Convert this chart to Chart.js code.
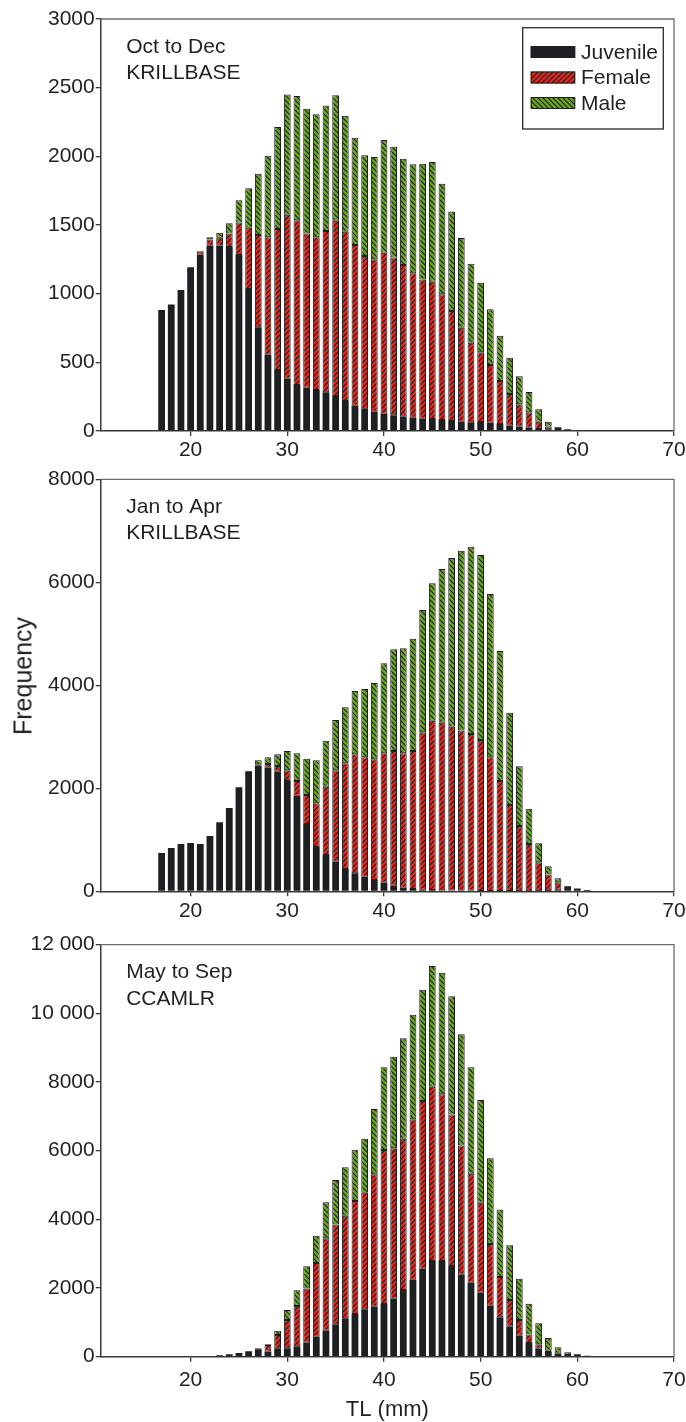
<!DOCTYPE html>
<html><head><meta charset="utf-8">
<script src="https://cdn.jsdelivr.net/npm/chart.js@4.4.1/dist/chart.umd.min.js"></script>
<style>
html,body{margin:0;padding:0;background:#fff;}
body{width:686px;height:1422px;position:relative;overflow:hidden;}
.wrap{position:absolute;left:0;width:686px;}
canvas{display:block;}
#ylab{position:absolute;left:22.5px;top:676px;transform:translate(-50%,-50%) rotate(-90deg);
  font-family:'Liberation Sans',Arial,Helvetica,sans-serif;font-size:25px;line-height:1;color:#231f20;white-space:nowrap;}
</style></head><body>
<div class="wrap" style="top:0px;height:470px"><canvas id="c1" width="686" height="470"></canvas></div>
<div class="wrap" style="top:460px;height:470px"><canvas id="c2" width="686" height="470"></canvas></div>
<div class="wrap" style="top:925px;height:497px"><canvas id="c3" width="686" height="497"></canvas></div>
<div id="ylab">Frequency</div>
<script>
// ---------------- DATA ----------------
const lengths = [17,18,19,20,21,22,23,24,25,26,27,28,29,30,31,32,33,34,35,36,37,38,39,40,41,42,43,44,45,46,47,48,49,50,51,52,53,54,55,56,57,58,59,60,61];
const seriesNames = ['Juvenile','Female','Male'];

// Oct to Dec, KRILLBASE
const octJuv  = [881,922,1027,1192,1286,1349,1349,1340,1281,1034,755,556,444,381,335,316,299,282,255,218,184,165,141,126,114,104,97,90,87,80,73,68,63,66,61,51,39,32,24,15,12,27,12,5,2];
const octFem  = [0,0,0,0,22,46,59,99,238,446,672,854,1027,1194,1199,1123,1111,1174,1276,1233,1170,1109,1109,1172,1150,1105,1051,1014,1000,915,801,684,580,507,420,313,230,162,112,53,20,0,0,0,0];
const octMale = [0,0,0,0,0,15,36,73,161,287,447,595,742,876,905,908,896,915,913,845,782,733,745,821,806,774,794,842,872,806,725,653,575,507,405,330,265,204,148,90,36,0,0,0,0];

// Jan to Apr, KRILLBASE
const janJuv  = [744,841,919,938,919,1074,1340,1618,2019,2330,2440,2401,2323,2142,1857,1307,861,705,576,434,349,285,220,168,110,71,45,32,26,20,15,12,10,8,6,5,4,3,3,2,2,30,100,52,26];
const janFem  = [0,0,0,0,0,0,0,0,0,0,25,71,110,207,285,563,848,1327,1773,2051,2311,2317,2343,2511,2615,2608,2680,3055,3288,3255,3182,3108,3045,2930,2596,2137,1672,1266,916,561,322,145,0,0,0];
const janMale = [0,0,0,0,0,0,0,0,0,13,78,130,227,376,537,706,834,893,978,1088,1230,1327,1482,1748,1974,2039,2181,2375,2666,2983,3275,3494,3637,3592,3171,2524,1793,1158,686,369,161,77,0,0,0];

// May to Sep, CCAMLR
const mayJuv  = [0,0,0,0,0,19,39,68,107,160,215,150,245,243,301,417,583,757,942,1117,1243,1379,1456,1534,1689,1942,2243,2563,2786,2786,2641,2388,2155,1864,1485,1146,874,612,398,233,136,90,50,68,29];
const mayFem  = [0,0,0,0,0,0,0,0,0,0,30,190,387,825,1175,1573,2145,2690,2912,2990,3291,3398,3855,4486,4379,4408,4670,4884,5078,4855,4417,3767,3175,2622,1797,1174,777,456,252,126,39,5,0,0,0];
const mayMale = [0,0,0,0,0,0,0,0,0,0,0,20,125,291,456,641,796,1048,1292,1408,1495,1573,1903,2407,2670,2922,3048,3243,3515,3544,3437,3234,3097,2990,2495,1971,1592,1204,894,612,369,177,76,0,0];

const xTicks   = [20,30,40,50,60,70];
const octTicks = [0,500,1000,1500,2000,2500,3000];
const janTicks = [0,2000,4000,6000,8000];
const mayTicks = [0,2000,4000,6000,8000,10000,12000];

const panelTexts = [['Oct to Dec','KRILLBASE'],['Jan to Apr','KRILLBASE'],['May to Sep','CCAMLR']];

// ---------------- STYLE ----------------
const FONT = "'Liberation Sans', Arial, Helvetica, sans-serif";
const TXT = '#231f20';
const AXIS = '#3a3a3a';
Chart.defaults.font.family = FONT;
Chart.defaults.color = TXT;

function hatch(ctx, bg, dir) {
  const s = 5;
  const c = document.createElement('canvas');
  c.width = s; c.height = s;
  const g = c.getContext('2d');
  g.fillStyle = bg; g.fillRect(0, 0, s, s);
  g.strokeStyle = '#1a1a1a'; g.lineWidth = 1.1;
  g.beginPath();
  if (dir === '/') {
    g.moveTo(-1, s + 1); g.lineTo(s + 1, -1);
    g.moveTo(-1, 1); g.lineTo(1, -1);
    g.moveTo(s - 1, s + 1); g.lineTo(s + 1, s - 1);
  } else {
    g.moveTo(-1, -1); g.lineTo(s + 1, s + 1);
    g.moveTo(-1, s - 1); g.lineTo(1, s + 1);
    g.moveTo(s - 1, -1); g.lineTo(s + 1, 1);
  }
  g.stroke();
  return ctx.createPattern(c, 'repeat');
}

function fmt(v) {
  return v >= 10000 ? String(v).replace(/\B(?=(\d{3})+$)/g, ' ') : String(v);
}

const framePlugin = {
  id: 'frame',
  afterDraw(chart) {
    const {ctx, chartArea: a} = chart;
    ctx.save();
    ctx.strokeStyle = '#6e6e6e';
    ctx.lineWidth = 1.3;
    ctx.beginPath();
    ctx.moveTo(a.left, a.top); ctx.lineTo(a.right, a.top); ctx.lineTo(a.right, a.bottom);
    ctx.stroke();
    ctx.restore();
  }
};

const notePlugin = {
  id: 'note',
  afterDraw(chart, args, o) {
    if (!o.lines) return;
    const {ctx, chartArea: a} = chart;
    ctx.save();
    ctx.fillStyle = TXT;
    ctx.font = '21px ' + FONT;
    ctx.textBaseline = 'alphabetic';
    ctx.textAlign = 'left';
    ctx.fillText(o.lines[0], a.left + 25.5, a.top + 33.5);
    ctx.fillText(o.lines[1], a.left + 25.5, a.top + 60);
    ctx.restore();
  }
};

const boxLegendPlugin = {
  id: 'boxLegend',
  afterDraw(chart, args, o) {
    if (!o.show) return;
    const {ctx, chartArea: a} = chart;
    const bx = a.right - 151.3, by = a.top + 8.7, bw = 140.6, bh = 101.3;
    ctx.save();
    ctx.fillStyle = '#fff';
    ctx.fillRect(bx, by, bw, bh);
    ctx.strokeStyle = '#2a2a2a';
    ctx.lineWidth = 1.3;
    ctx.strokeRect(bx, by, bw, bh);
    const rows = [24.3, 49.8, 75.3];
    chart.data.datasets.forEach((ds, i) => {
      const cy = by + rows[i];
      ctx.fillStyle = ds.backgroundColor;
      ctx.fillRect(bx + 8, cy - 6, 44.5, 12);
      ctx.strokeStyle = '#1e1e1e';
      ctx.lineWidth = 1;
      ctx.strokeRect(bx + 8.5, cy - 5.5, 43.5, 11);
      ctx.fillStyle = TXT;
      ctx.font = '21px ' + FONT;
      ctx.textBaseline = 'middle';
      ctx.textAlign = 'left';
      ctx.fillText(ds.label, bx + 58.3, cy + 1);
    });
    ctx.restore();
  }
};

function makeChart(id, juv, fem, male, yTicks, cfg) {
  const canvas = document.getElementById(id);
  const ctx = canvas.getContext('2d');
  const toPts = arr => lengths.map((L, i) => ({x: L, y: arr[i] === 0 ? null : arr[i]}));
  const common = {borderSkipped: false, barPercentage: 0.7, categoryPercentage: 1.0};
  return new Chart(ctx, {
    type: 'bar',
    data: {
      datasets: [
        Object.assign({label: seriesNames[0], data: toPts(juv), backgroundColor: '#1e1f22', borderWidth: 0}, common),
        Object.assign({label: seriesNames[1], data: toPts(fem), backgroundColor: hatch(ctx, '#e4281e', '/'), borderColor: '#1e1e1e', borderWidth: 1}, common),
        Object.assign({label: seriesNames[2], data: toPts(male), backgroundColor: hatch(ctx, '#6aa91f', '\\'), borderColor: '#1e1e1e', borderWidth: 1}, common)
      ]
    },
    options: {
      responsive: false,
      animation: false,
      layout: {padding: {top: cfg.top, right: 12, left: 0, bottom: 0}},
      plugins: {
        legend: {display: false},
        tooltip: {enabled: false},
        note: {lines: cfg.lines},
        boxLegend: {show: !!cfg.legend}
      },
      scales: {
        x: {
          type: 'linear', stacked: true, min: 10.7, max: 70, offset: false,
          afterBuildTicks: s => { s.ticks = xTicks.map(v => ({value: v})); },
          afterFit: s => { s.height = cfg.xh; s.paddingRight = 0; s.paddingLeft = 0; },
          grid: {display: true, offset: false, drawOnChartArea: false, drawTicks: true, tickLength: 5, color: AXIS, lineWidth: 1.3},
          border: {display: true, color: AXIS, width: 1.5},
          ticks: {font: {size: 21}, color: TXT, padding: cfg.xpad, maxRotation: 0, autoSkip: false},
          title: cfg.xtitle ? {display: true, text: cfg.xtitle, font: {size: 22, lineHeight: 1}, color: TXT, padding: {top: 0, bottom: 1}} : {display: false}
        },
        y: {
          stacked: true, min: 0, max: yTicks[yTicks.length - 1],
          afterBuildTicks: s => { s.ticks = yTicks.map(v => ({value: v})); },
          afterFit: s => { s.width = 100.7; s.paddingTop = 0; s.paddingBottom = 0; },
          grid: {display: true, drawOnChartArea: false, drawTicks: true, tickLength: 5, color: AXIS, lineWidth: 1.3},
          border: {display: true, color: AXIS, width: 1.5},
          ticks: {font: {size: 21}, color: TXT, padding: 1, callback: v => fmt(v)}
        }
      }
    },
    plugins: [framePlugin, notePlugin, boxLegendPlugin]
  });
}

makeChart('c1', octJuv, octFem, octMale, octTicks, {top: 19, xh: 39, xpad: 2, lines: panelTexts[0], legend: true});
makeChart('c2', janJuv, janFem, janMale, janTicks, {top: 19.3, xh: 38.7, xpad: 2, lines: panelTexts[1]});
makeChart('c3', mayJuv, mayFem, mayMale, mayTicks, {top: 19.7, xh: 65.3, xpad: 6, lines: panelTexts[2], xtitle: 'TL (mm)'});
</script>
</body></html>
